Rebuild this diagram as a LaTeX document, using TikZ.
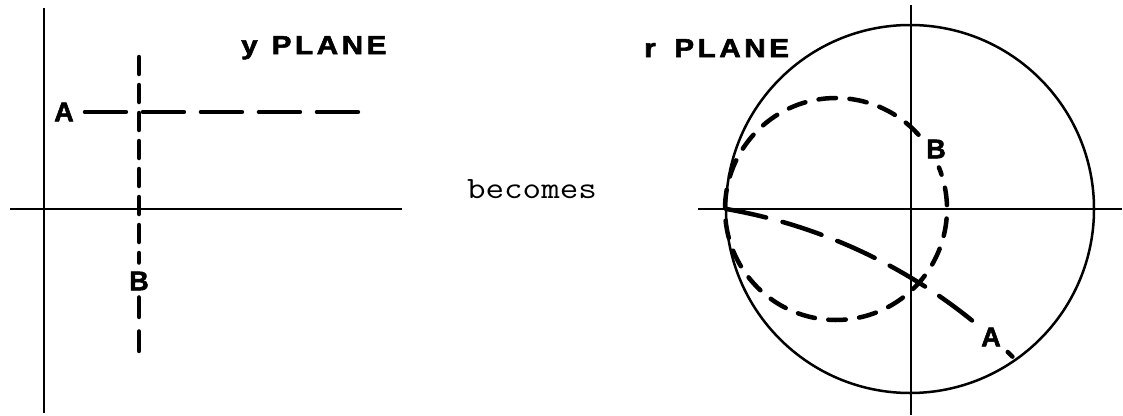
\documentclass[tikz,border=0pt]{standalone}
\usepackage{fontspec}
\newfontfamily\lettering{Liberation Sans}[BoldFeatures={FakeBold=2}]
\newfontfamily\spaced{Liberation Sans}[LetterSpace=12,BoldFeatures={FakeBold=2}]
\begin{document}
\begin{tikzpicture}[x=1pt,y=-1pt,
  axis/.style={line width=2.5pt},
  dashA/.style={line width=4.5pt, line cap=round, dash pattern=on 41pt off 17pt},
  dashB/.style={line width=4.5pt, line cap=round, dash pattern=on 17pt off 11pt},
  dashBlow/.style={line width=4.5pt, line cap=round, dash pattern=on 19.5pt off 14.5pt},
  dashC/.style={line width=4.5pt, line cap=round, dash pattern=on 17.5pt off 13.5pt},
  solidthick/.style={line width=4.5pt, line cap=round},
  lbl/.style={font=\lettering\bfseries\fontsize{27}{27}\selectfont, inner sep=0pt},
  title/.style={font=\spaced\bfseries\fontsize{26}{26}\selectfont, inner sep=0pt, anchor=base west}]
\useasboundingbox (0,0) rectangle (1123,415);

% ---------- y plane ----------
\coordinate (Lt) at (44,8);
\coordinate (Lb) at (44,413);
\coordinate (Hl) at (10,209);
\coordinate (Hr) at (402,209);
\draw[axis] (Lt) -- (Lb);
\draw[axis] (Hl) -- (Hr);

\node[lbl] (A1) at (64,112) {A};
\node[lbl] (B1) at (139,281) {B};
\coordinate (Aend) at (358,112);
\coordinate (Btop) at (139,57);
\coordinate (Bbot) at (139,355);
\draw[dashA] ([xshift=11pt]A1.east) -- (Aend);
\draw[dashB] (Btop) -- ([yshift=9pt]B1.north);
\draw[dashBlow] ([yshift=-7pt]B1.south) -- (Bbot);

\node[title] (yt) at (241,54) {\scalebox{1.14}[1]{y\hspace{2pt} PLANE}};

% ---------- becomes ----------
\node[font=\ttfamily\fontsize{31}{31}\selectfont, anchor=base, inner sep=0pt] (bc) at (532,198) {\scalebox{1.16}[1]{becomes}};

% ---------- r plane ----------
\coordinate (O) at (910,209);
\draw[axis] (O) circle[radius=184];
\coordinate (Rl) at (698,209);
\coordinate (Rr) at (1122,209);
\coordinate (Rt) at (911,5);
\coordinate (Rb) at (911,415);
\draw[axis] (Rl) -- (Rr);
\draw[axis] (Rt) -- (Rb);

\node[title] (rt) at (644,57) {\scalebox{1.14}[1]{r\hspace{6pt} PLANE}};

% constant-conductance circle B
\coordinate (C) at (836,209);
\draw[dashC] (C) ++(-42:111) arc[start angle=-42, end angle=-382, radius=111];
\node[lbl] (B2) at (936,149) {B};

% constant-susceptance arc A
\coordinate (Ac) at (634,739);
\draw[dashA] (Ac) ++(-80.15:538) arc[start angle=-80.15, end angle=-51.08, radius=538];
\draw[solidthick] (Ac) ++(-46.0:538) arc[start angle=-46.0, end angle=-45.3, radius=538];
\node[lbl] (A2) at (991,337) {A};
\end{tikzpicture}
\end{document}
